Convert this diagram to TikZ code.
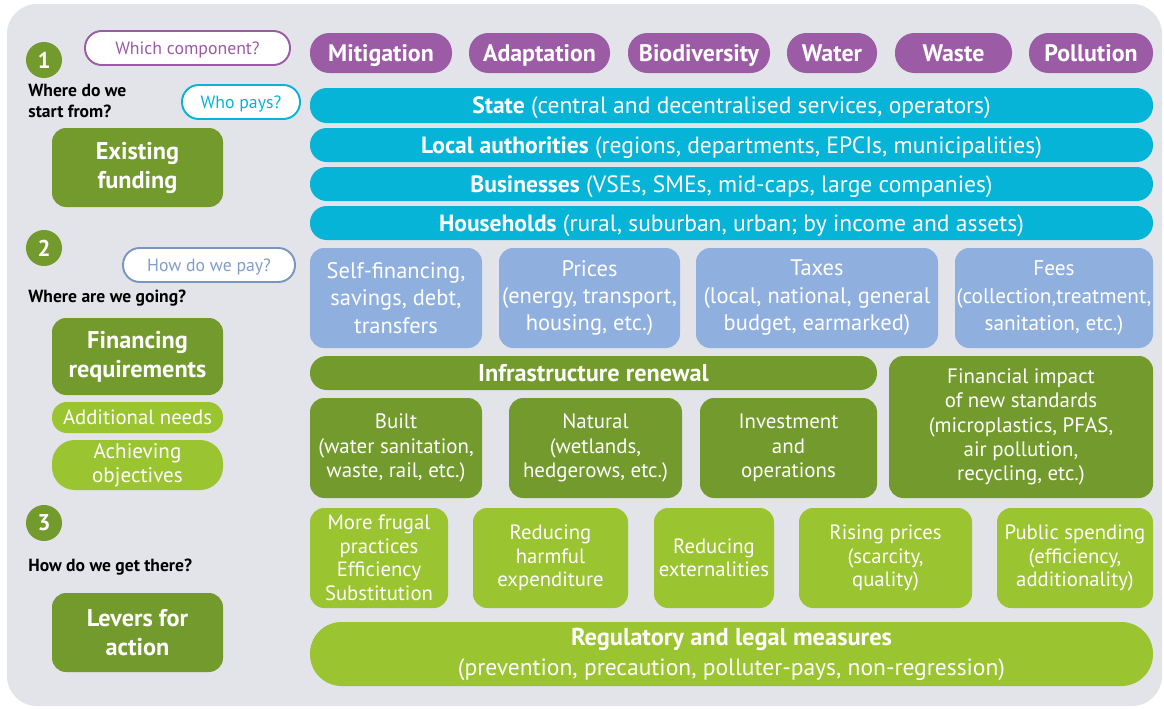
\documentclass[tikz,border=0pt]{standalone}
\usepackage{fontspec}
\setmainfont{PT Sans}
\usepackage{xcolor}
\usepackage{tikz}
\definecolor{panelgrey}{HTML}{E3E4EA}
\definecolor{comppurple}{HTML}{9B5BA5}
\definecolor{paycyan}{HTML}{06B4D8}
\definecolor{payblue}{HTML}{8FB0DF}
\definecolor{darkgreen}{HTML}{739A2C}
\definecolor{lightgreen}{HTML}{9BC431}
\tikzset{wh/.style 2 args={minimum width=#1*0.02cm,minimum height=#2*0.02cm}}
\tikzstyle{tile} = [draw=none,rounded corners=8pt,inner sep=0pt,align=center,text=white]
\tikzstyle{oneline} = [text depth=0pt]
\tikzstyle{component} = [tile,oneline,fill=comppurple,rounded corners=11pt,font=\bfseries\fontsize{13.6}{16}\selectfont]
\tikzstyle{payer} = [tile,oneline,fill=paycyan,rounded corners=9.5pt,font=\fontsize{13.4}{16}\selectfont]
\tikzstyle{channel} = [tile,fill=payblue,font=\fontsize{12.8}{15.6}\selectfont]
\tikzstyle{need} = [tile,fill=darkgreen,font=\fontsize{11.9}{13.9}\selectfont]
\tikzstyle{lever} = [tile,fill=lightgreen,font=\fontsize{11.8}{13.4}\selectfont]
\tikzstyle{stage} = [tile,fill=darkgreen,font=\bfseries\fontsize{13.8}{16.5}\selectfont]
\tikzstyle{question} = [tile,oneline,fill=white,line width=1.1pt,rounded corners=9.5pt,font=\fontsize{10.1}{12}\selectfont]
\tikzstyle{numdot} = [circle,fill=darkgreen,text=white,minimum size=20.5pt,inner sep=0pt,font=\bfseries\fontsize{13}{13}\selectfont]
\tikzstyle{ask} = [inner sep=0pt,align=left,text=black,font=\bfseries\fontsize{10}{12}\selectfont]

\begin{document}
\begin{tikzpicture}[x=0.02cm,y=-0.02cm]
            \useasboundingbox (0,0) rectangle (1164,710);
            \fill[panelgrey,rounded corners=17pt] (7,4) rectangle (1162,706);
            % left column: steps
            \node[numdot] (one) at (44,60) {1};
            \node[question,draw=comppurple,text=comppurple,wh={205}{34}] (which) at (187.5,48) {Which component?};
            \node[ask,anchor=north west] (start) at (28,84) {Where do we\\start from?};
            \node[question,draw=paycyan,text=paycyan,wh={118}{34}] (whopays) at (241,102) {Who pays?};
            \node[stage,wh={171}{79}] (existing) at (137.5,167.5) {Existing\\funding};
            \node[numdot] (two) at (44,248) {2};
            \node[question,draw=payblue!85!black,text=payblue!90!black,wh={172}{34}] (howpay) at (209,265) {How do we pay?};
            \node[ask,anchor=west] (going) at (28,298) {Where are we going?};
            \node[stage,wh={171}{77}] (financing) at (137.5,356.5) {Financing\\requirements};
            \node[tile,oneline,fill=lightgreen,rounded corners=8.5pt,font=\fontsize{11.8}{14}\selectfont,wh={171}{31}] (additional) at (137.5,417.5) {Additional needs};
            \node[tile,fill=lightgreen,rounded corners=13pt,font=\fontsize{12}{13.6}\selectfont,wh={171}{50}] (achieving) at (137.5,465) {Achieving\\objectives};
            \node[numdot] (three) at (44,523) {3};
            \node[ask,anchor=west] (getthere) at (28,567) {How do we get there?};
            \node[stage,wh={171}{79}] (levers) at (137.5,632.5) {Levers for\\action};
            % components
            \node[component,wh={142}{40}] (mitigation) at (381,53) {Mitigation};
            \node[component,wh={141}{40}] (adaptation) at (539.5,53) {Adaptation};
            \node[component,wh={142}{40}] (biodiversity) at (699,53) {Biodiversity};
            \node[component,wh={90}{40}] (water) at (832,53) {Water};
            \node[component,wh={117}{40}] (waste) at (953.5,53) {Waste};
            \node[component,wh={124}{40}] (pollution) at (1091,53) {Pollution};
            % payers
            \node[payer,wh={843}{35}] (state) at (731.5,105.5) {\textbf{State} (central and decentralised services, operators)};
            \node[payer,wh={843}{34}] (local) at (731.5,145) {\textbf{Local authorities} (regions, departments, EPCIs, municipalities)};
            \node[payer,wh={843}{34}] (business) at (731.5,184) {\textbf{Businesses} (VSEs, SMEs, mid-caps, large companies)};
            \node[payer,wh={843}{34}] (households) at (731.5,223) {\textbf{Households} (rural, suburban, urban; by income and assets)};
            % payment channels
            \node[channel,wh={172}{100}] (selffin) at (396,298) {Self-financing,\\savings, debt,\\transfers};
            \node[channel,wh={181}{100}] (prices) at (589.5,298) {Prices\\(energy, transport,\\housing, etc.)};
            \node[channel,wh={242}{100}] (taxes) at (817,298) {Taxes\\(local, national, general\\budget, earmarked)};
            \node[channel,font=\fontsize{12.1}{15.6}\selectfont,wh={198}{100}] (fees) at (1054,298) {Fees\\(collection,treatment,\\sanitation, etc.)};
            % financing needs
            \node[need,oneline,rounded corners=9.5pt,font=\bfseries\fontsize{13.8}{16}\selectfont,wh={567}{34}] (renewal) at (593.5,373) {Infrastructure renewal};
            \node[need,wh={172}{100}] (built) at (396,448) {Built\\(water sanitation,\\waste, rail, etc.)};
            \node[need,wh={173}{100}] (natural) at (595.5,448) {Natural\\(wetlands,\\hedgerows, etc.)};
            \node[need,wh={177}{100}] (investment) at (788.5,448) {Investment\\and\\operations};
            \node[need,wh={264}{142}] (standards) at (1021,427) {Financial impact\\of new standards\\(microplastics, PFAS,\\air pollution,\\recycling, etc.)};
            % levers
            \node[lever,wh={138}{100}] (frugal) at (379,558) {More frugal\\practices\\Efficiency\\Substitution};
            \node[lever,wh={155}{100}] (harmful) at (550.5,558) {Reducing\\harmful\\expenditure};
            \node[lever,wh={120}{100}] (externalities) at (714,558) {Reducing\\externalities};
            \node[lever,wh={173}{100}] (rising) at (885.5,558) {Rising prices\\(scarcity,\\quality)};
            \node[lever,wh={156}{100}] (spending) at (1075,558) {Public spending\\(efficiency,\\additionality)};
            \node[lever,rounded corners=18pt,font=\fontsize{13.4}{17}\selectfont,wh={843}{64}] (regulatory) at (731.5,654) {{\bfseries\fontsize{13.9}{17}\selectfont Regulatory and legal measures}\\(prevention, precaution, polluter-pays, non-regression)};
        \end{tikzpicture}
\end{document}
